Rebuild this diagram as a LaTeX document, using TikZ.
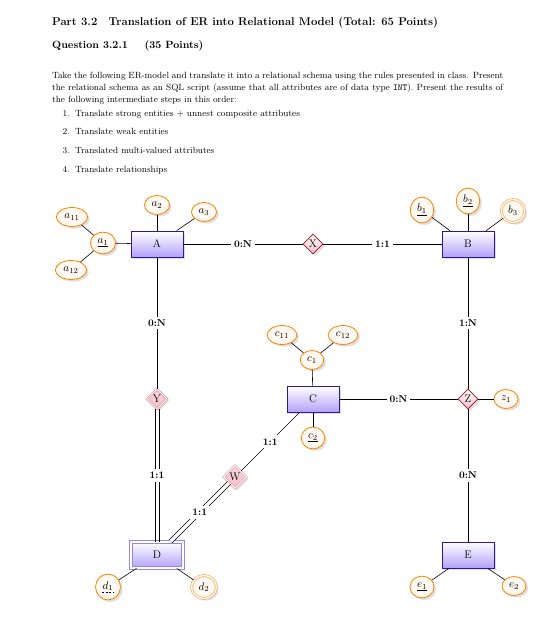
\documentclass[tikz,border=0pt]{standalone}
\usepackage{fix-cm}
\usepackage{fontspec}
\usetikzlibrary{shapes.geometric,shadows}

\definecolor{entline}{RGB}{50,22,150}
\definecolor{entfill}{RGB}{178,162,250}
\definecolor{weakline}{RGB}{150,135,225}
\definecolor{relline}{RGB}{160,16,32}
\definecolor{relfill}{RGB}{245,190,200}
\definecolor{weakrel}{RGB}{230,160,170}

\tikzset{
  entity/.style={rectangle, draw=entline, thick, top color=white, bottom color=entfill,
    minimum width=52pt, minimum height=26pt, drop shadow={opacity=0.25}},
  weak entity/.style={entity, draw=weakline, double, double distance=1.5pt},
  attribute/.style={ellipse, draw=orange, thick, fill=orange!5, inner sep=3.5pt,
    drop shadow={opacity=0.25}},
  multi attribute/.style={attribute, draw=orange!60, double, double distance=1.2pt},
  relationship/.style={diamond, aspect=1, draw=relline, thick, top color=white,
    bottom color=relfill, inner sep=1pt, minimum size=20pt, drop shadow={opacity=0.25}},
  weak relationship/.style={relationship, draw=weakrel, double, double distance=0.8pt,
    top color=relfill!60, bottom color=relfill},
  card/.style={fill=white, font=\bfseries, inner sep=3pt},
  link/.style={line width=0.6pt},
  textline/.style={anchor=base west, inner sep=0pt, font=\fontsize{9}{12}\selectfont},
}

\begin{document}
\begin{tikzpicture}[x=1pt, y=-1pt, font=\fontsize{11}{13}\selectfont]
\useasboundingbox (0,0) rectangle (556,629);

% the question
\node[anchor=base west, inner sep=0pt, font=\fontsize{11.3}{14}\selectfont\bfseries] (part) at (52,25)
  {Part 3.2\quad Translation of ER into Relational Model (Total: 65 Points)};
\node[anchor=base west, inner sep=0pt, font=\fontsize{10.5}{13}\selectfont\bfseries] (quest) at (52,48)
  {Question 3.2.1\hspace{1.6em}(35 Points)};
\node[textline] (l1) at (52,78) {\makebox[451pt][s]{Take the following ER-model and translate it into a relational schema using the rules presented in class. Present}};
\node[textline] (l2) at (52,90) {\makebox[451pt][s]{the relational schema as an SQL script (assume that all attributes are of data type \texttt{INT}). Present the results of}};
\node[textline] (l3) at (52,102) {the following intermediate steps in this order:};
\foreach \n/\t/\y in {1/{Translate strong entities $+$ unnest composite attributes}/116,
    2/{Translate weak entities}/134, 3/{Translated multi-valued attributes}/153,
    4/{Translate relationships}/172}{
  \node[textline, anchor=base east] (n\n) at (70,\y) {\n.};
  \node[textline] (s\n) at (75,\y) {\t};
}

% entities and relationships
\node[entity] (A) at (157,244) {A};
\node[entity] (B) at (468,244) {B};
\node[entity] (C) at (313,399) {C};
\node[weak entity] (D) at (157,555) {D};
\node[entity] (E) at (468,555) {E};
\node[relationship] (X) at (313,244) {X};
\node[weak relationship] (Y) at (157,399) {Y};
\node[relationship] (Z) at (468,399) {Z};
\node[weak relationship] (W) at (235,477) {W};

% attributes
\node[attribute] (a1) at (103,243) {$\underline{a_1}$};
\node[attribute] (a11) at (72,217) {$a_{11}$};
\node[attribute] (a12) at (71,270) {$a_{12}$};
\node[attribute] (a2) at (157,205) {$a_2$};
\node[attribute] (a3) at (204,212) {$a_3$};
\node[attribute] (b1) at (422,210) {$\underline{b_1}$};
\node[attribute] (b2) at (468,201) {$\underline{b_2}$};
\node[multi attribute] (b3) at (513,211) {$b_3$};
\node[attribute] (c1) at (312,360) {$c_1$};
\node[attribute] (c11) at (282,335) {$c_{11}$};
\node[attribute] (c12) at (343,335) {$c_{12}$};
\node[attribute] (c2) at (313,438) {$\underline{c_2}$};
\node[attribute] (z1) at (506,399) {$z_1$};
\node[attribute] (d1) at (108,587) {$\vphantom{\underline{d_1}}d_1$};
\draw[line width=0.4pt, dash pattern=on 2pt off 1.6pt] ([shift={(-6pt,-3.6pt)}]d1.base) -- ([shift={(6pt,-3.6pt)}]d1.base);
\node[multi attribute] (d2) at (204,587) {$d_2$};
\node[attribute] (e1) at (422,587) {$\underline{e_1}$};
\node[attribute] (e2) at (514,586) {$e_2$};

\foreach \t in {a1,a2,a3} \draw[link] (A) -- (\t);
\foreach \t in {a11,a12} \draw[link] (a1) -- (\t);
\foreach \t in {b1,b2,b3} \draw[link] (B) -- (\t);
\foreach \t in {c1,c2} \draw[link] (C) -- (\t);
\foreach \t in {c11,c12} \draw[link] (c1) -- (\t);
\foreach \t in {d1,d2} \draw[link] (D) -- (\t);
\foreach \t in {e1,e2} \draw[link] (E) -- (\t);
\draw[link] (Z) -- (z1);

% relationships
\draw[link] (A) -- node[card] {0:N} (X);
\draw[link] (X) -- node[card] {1:1} (B);
\draw[link] (B) -- node[card] {1:N} (Z);
\draw[link] (Z) -- node[card] {0:N} (C);
\draw[link] (Z) -- node[card] {0:N} (E);
\draw[link] (A) -- node[card] {0:N} (Y);
\draw[link] (C) -- node[card] {1:1} (W);
\foreach \s in {-2pt,2pt}
  \draw[link] ([xshift=\s]Y.south) -- ([xshift=\s]D.north);
\path (Y) -- node[card] {1:1} (D);
\draw[link, double, double distance=3.5pt] (W) -- node[card] {1:1} (D);

\end{tikzpicture}
\end{document}
